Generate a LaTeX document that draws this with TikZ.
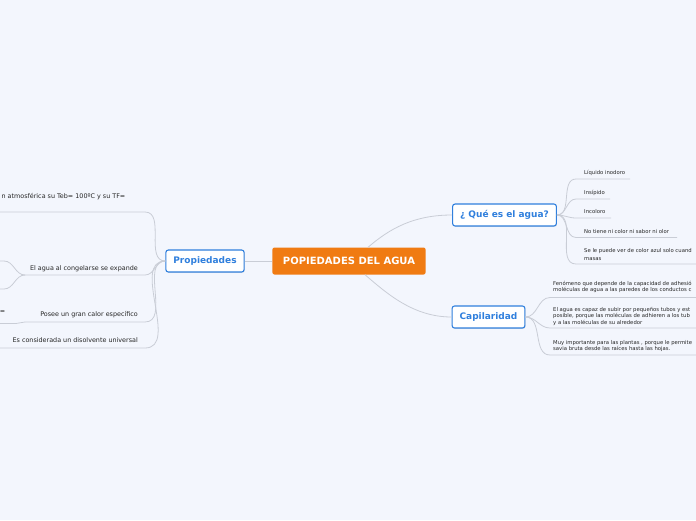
\documentclass[tikz,border=0pt]{standalone}
\usepackage{fontspec}
\setmainfont{DejaVu Sans}
\usepackage{xcolor}
\usetikzlibrary{calc, positioning, shadows}

\definecolor{fondo}{HTML}{F3F6FD}
\definecolor{naranja}{HTML}{F07B12}
\definecolor{azul}{HTML}{2F7FDD}
\definecolor{linea}{HTML}{C9CDD6}
\definecolor{texto}{HTML}{262626}

\begin{document}
\begin{tikzpicture}[x=1pt, y=-1pt,
    raiz/.style={fill=naranja, rounded corners=2pt, text=white,
        font=\fontsize{10}{12}\selectfont\bfseries, minimum height=27pt, inner xsep=10.5pt},
    tema/.style={draw=azul, line width=1.1pt, fill=white, rounded corners=2.5pt, text=azul,
        font=\fontsize{9}{11}\selectfont\bfseries, minimum height=22pt, inner xsep=7.5pt,
        drop shadow={opacity=0.2, shadow xshift=0.6pt, shadow yshift=-0.9pt}},
    hojaizq/.style={anchor=base east, inner sep=0pt, text=texto, font=\fontsize{6.4}{7.5}\selectfont},
    hojader/.style={anchor=base west, inner sep=0pt, align=left, text=texto, font=\fontsize{5.3}{6.2}\selectfont},
    rama/.style={draw=linea, line width=0.8pt},
]

    % fondo y marco
    \fill[fondo] (0,0) rectangle (696,520);
    \useasboundingbox (0,0) rectangle (696,520);
    \clip (0,0) rectangle (696,520);

    % ---------------------------------------------------------------
    % 1. puntos de las lineas
    % ---------------------------------------------------------------
    \coordinate (tebR) at (145,212);     \coordinate (tebL) at (-5,212);
    \coordinate (congR) at (145,275);    \coordinate (congL) at (25,275);
    \coordinate (calR) at (145,322);     \coordinate (calL) at (25,322);
    \coordinate (disR) at (145,348);     \coordinate (disL) at (-5,348);

    \coordinate (subA) at (4,261);       \coordinate (subAL) at (-5,261);
    \coordinate (subB) at (4,289);       \coordinate (subBL) at (-5,289);
    \coordinate (subC) at (16,323.5);    \coordinate (subCL) at (-5,323.5);

    \coordinate (liqL) at (576,179);     \coordinate (liqR) at (630,179);
    \coordinate (insL) at (576,199);     \coordinate (insR) at (610,199);
    \coordinate (incL) at (576,218);     \coordinate (incR) at (611,218);
    \coordinate (nocL) at (576,237.5);   \coordinate (nocR) at (677,237.5);
    \coordinate (azuL) at (576,264);     \coordinate (azuR) at (700,264);

    \coordinate (fenL) at (550,297.5);   \coordinate (fenR) at (700,297.5);
    \coordinate (subL) at (550,328);     \coordinate (subR) at (700,328);
    \coordinate (plaL) at (550,355);     \coordinate (plaR) at (700,355);

    % ---------------------------------------------------------------
    % 2. nodos principales
    % ---------------------------------------------------------------
    \node[raiz] (raiz) at (349,261) {POPIEDADES DEL AGUA};
    \node[tema] (prop) at (205,261) {Propiedades};
    \node[tema] (que) at (504.5,215) {¿ Qué es el agua?};
    \node[tema] (capi) at (488.5,317) {Capilaridad};

    % ---------------------------------------------------------------
    % 3. ramas
    % ---------------------------------------------------------------
    \draw[rama] (prop.east) -- (raiz.west);
    \draw[rama] ([xshift=19pt]raiz.north) .. controls +(22,-19) and +(-38,0) .. (que.west);
    \draw[rama] ([xshift=16pt]raiz.south) .. controls +(22,19) and +(-38,0) .. (capi.west);

    % Propiedades
    \foreach \a/\b in {teb, cong, cal, dis}
        \draw[rama] (prop.west) to[out=180, in=0] (\a R) -- (\b L);
    \draw[rama] (congL) to[out=180, in=0] (subA) -- (subAL);
    \draw[rama] (congL) to[out=180, in=0] (subB) -- (subBL);
    \draw[rama] (calL) to[out=180, in=0] (subC) -- (subCL);

    % Que es el agua
    \foreach \a in {liq, ins, inc, noc, azu}
        \draw[rama] (que.east) to[out=0, in=180] (\a L) -- (\a R);

    % Capilaridad
    \foreach \a in {fen, sub, pla}
        \draw[rama] (capi.east) to[out=0, in=180] (\a L) -- (\a R);

    % ---------------------------------------------------------------
    % 4. textos (base = ultima linea)
    % ---------------------------------------------------------------
    \node[hojaizq] (teb) at (125.5,198) {n atmosférica su Teb= 100ºC y su TF=};
    \node[hojaizq] (congela) at (138,270) {El agua al congelarse se expande};
    \node[hojaizq] (calor) at (138,316.5) {Posee un gran calor específico};
    \node[hojaizq] (disolv) at (138,342.5) {Es considerada un disolvente universal};
    \node[hojaizq, anchor=base west] (igual) at (-0.3,313) {=};

    \node[hojader] (liquido) at (584,174.8) {Líquido inodoro};
    \node[hojader] (insipido) at (584,194.8) {Insípido};
    \node[hojader] (incoloro) at (584,213.8) {Incoloro};
    \node[hojader] (nocolor) at (584,233.4) {No tiene ni color ni sabor ni olor};
    \node[hojader, font=\fontsize{5.3}{7.6}\selectfont] (azulado) at (584,260) {Se le puede ver de color azul solo cuand\\masas};

    \node[hojader] (fenomeno) at (553,291.8) {Fenómeno que depende de la capacidad de adhesió\\moléculas de agua a las paredes de los conductos c};
    \node[hojader] (subir) at (553,324) {El agua es capaz de subir por pequeños tubos y  est\\posible, porque las moléculas de adhieren a los tub\\y  a las moléculas de su alrededor};
    \node[hojader] (plantas) at (553,350.3) {Muy importante para las plantas , porque le permite\\savia bruta desde las raíces hasta las hojas.};

\end{tikzpicture}
\end{document}
